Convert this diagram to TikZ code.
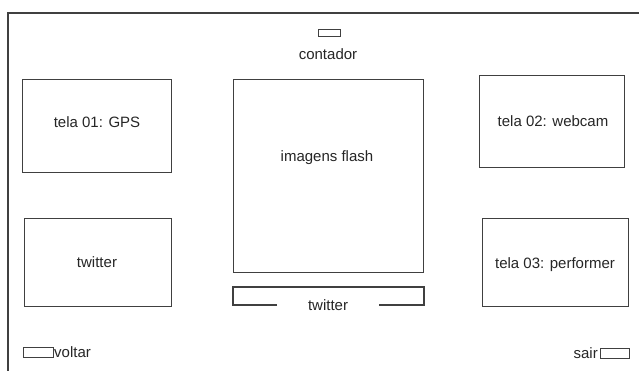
\documentclass[tikz,border=0pt]{standalone}
\usepackage{fontspec}
\setmainfont{Liberation Sans}
\begin{document}
\begin{tikzpicture}[x=1pt,y=-1pt,
  frame/.style={draw=black!75,line width=1.3pt},
  box/.style={draw=black!75,line width=1.3pt,rectangle,inner sep=0pt,anchor=north west},
  lbl/.style={inner sep=0pt,anchor=base,font=\fontsize{15}{18}\selectfont,text=black!85}]
\useasboundingbox (0,0) rectangle (639,370);
\fill[white] (0,0) rectangle (639,370);
% outer frame
\coordinate (fbl) at (8,372);
\coordinate (ftl) at (8,13);
\coordinate (ftr) at (641,13);
\draw[frame] (fbl) -- (ftl) -- (ftr);
% counter
\node[box,minimum width=22pt,minimum height=7pt] (cbox) at (318,29) {};
\node[lbl] (ctext) at (328,59) {contador};
% boxes
\node[box,minimum width=149pt,minimum height=93pt] (t1) at (22,79) {};
\node[lbl] (t1text) at (97,127) {tela 01: GPS};
\node[box,minimum width=190pt,minimum height=193pt] (img) at (233,79) {};
\node[lbl] (imgtext) at (327,161) {imagens flash};
\node[box,minimum width=145pt,minimum height=92pt] (t2) at (479,75) {};
\node[lbl] (t2text) at (553,126) {tela 02: webcam};
\node[box,minimum width=147pt,minimum height=88pt] (tw) at (24,218) {};
\node[lbl] (twtext) at (97,267) {twitter};
\node[box,minimum width=146pt,minimum height=88pt] (t3) at (482,218) {};
\node[lbl] (t3text) at (555,268) {tela 03: performer};
% twitter bar
\node[lbl] (bartext) at (328,310) {twitter};
\coordinate (b1) at (277,305);
\coordinate (b2) at (233,305);
\coordinate (b3) at (233,287);
\coordinate (b4) at (424,287);
\coordinate (b5) at (424,305);
\coordinate (b6) at (379,305);
\draw[frame,line join=miter] (b1) -- (b2) -- (b3) -- (b4) -- (b5) -- (b6);
% voltar / sair
\node[box,minimum width=30pt,minimum height=10pt] (vbox) at (23,347) {};
\node[lbl,anchor=base west] (vtext) at (54,357) {voltar};
\node[box,minimum width=29pt,minimum height=10pt] (sbox) at (600,348) {};
\node[lbl,anchor=base east] (stext) at (598,358) {sair};
\end{tikzpicture}
\end{document}
